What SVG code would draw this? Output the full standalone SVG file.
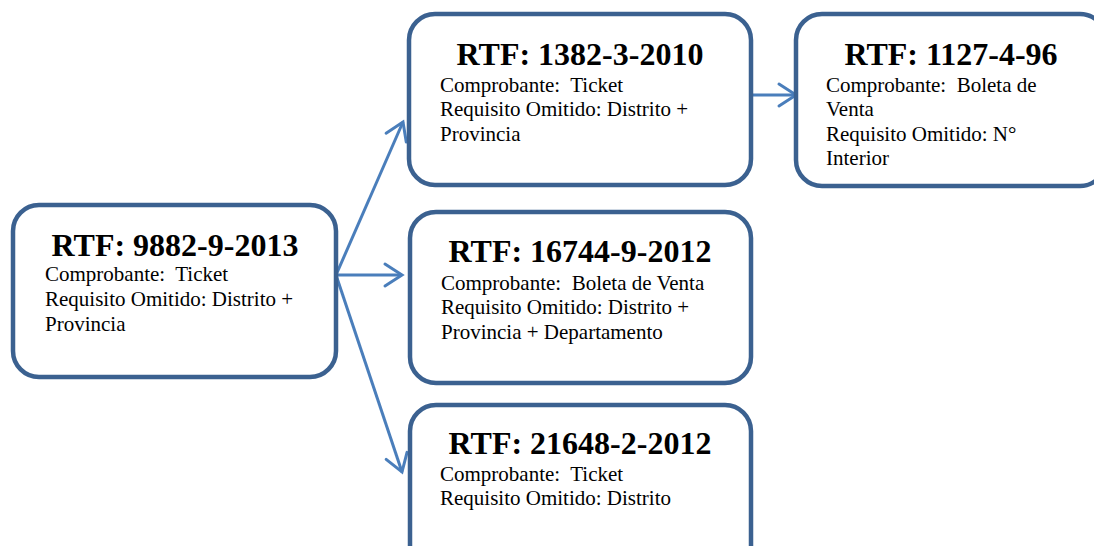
<svg xmlns="http://www.w3.org/2000/svg" width="1094" height="546" viewBox="0 0 1094 546" font-family="'Liberation Serif','Times New Roman',serif">
<style>
.box{fill:#fff;stroke:#3b6190;stroke-width:4.5}
.t{font-family:"Liberation Serif","Times New Roman",serif;font-weight:bold;font-size:32px;fill:#000;text-anchor:middle}
.b{font-family:"Liberation Serif","Times New Roman",serif;font-size:21px;fill:#000;white-space:pre}
.c{fill:none;stroke:#4a7ebb;stroke-width:3}
</style>
<defs>
<marker id="ah" viewBox="0 0 24 28" refX="20" refY="14" markerWidth="24" markerHeight="28" markerUnits="userSpaceOnUse" orient="auto">
<path d="M3,3 L20,14 L3,25" fill="none" stroke="#4a7ebb" stroke-width="3" stroke-linecap="round"/>
</marker>
</defs>
<rect width="1094" height="546" fill="#fff"/>
<g id="connectors">
<path class="c" d="M336,275 L403,122" marker-end="url(#ah)"/>
<path class="c" d="M336,275 L402,275" marker-end="url(#ah)"/>
<path class="c" d="M336,275 L402,472" marker-end="url(#ah)"/>
<path class="c" d="M752,95 L796,95" marker-end="url(#ah)"/>
</g>
<g id="n1">
<rect class="box" x="13" y="205" width="323" height="172" rx="26"/>
<text class="t" x="175" y="256">RTF: 9882-9-2013</text>
<text class="b" x="45" y="281">Comprobante:  Ticket</text>
<text class="b" x="45" y="306">Requisito Omitido: Distrito +</text>
<text class="b" x="45" y="331">Provincia</text>
</g>
<g id="n2">
<rect class="box" x="409" y="14" width="342" height="171" rx="26"/>
<text class="t" x="580" y="65">RTF: 1382-3-2010</text>
<text class="b" x="440" y="92">Comprobante:  Ticket</text>
<text class="b" x="440" y="116">Requisito Omitido: Distrito +</text>
<text class="b" x="440" y="141">Provincia</text>
</g>
<g id="n3">
<rect class="box" x="796" y="14" width="310" height="172" rx="26"/>
<text class="t" x="951" y="65">RTF: 1127-4-96</text>
<text class="b" x="826" y="92">Comprobante:  Boleta de</text>
<text class="b" x="826" y="116">Venta</text>
<text class="b" x="826" y="141">Requisito Omitido: N°</text>
<text class="b" x="826" y="165">Interior</text>
</g>
<g id="n4">
<rect class="box" x="410" y="212" width="341" height="171" rx="26"/>
<text class="t" x="580" y="262">RTF: 16744-9-2012</text>
<text class="b" x="441" y="290">Comprobante:  Boleta de Venta</text>
<text class="b" x="441" y="314">Requisito Omitido: Distrito +</text>
<text class="b" x="441" y="339">Provincia + Departamento</text>
</g>
<g id="n5">
<rect class="box" x="410" y="405" width="341" height="171" rx="26"/>
<text class="t" x="580" y="454">RTF: 21648-2-2012</text>
<text class="b" x="440" y="481">Comprobante:  Ticket</text>
<text class="b" x="440" y="505">Requisito Omitido: Distrito</text>
</g>
</svg>
